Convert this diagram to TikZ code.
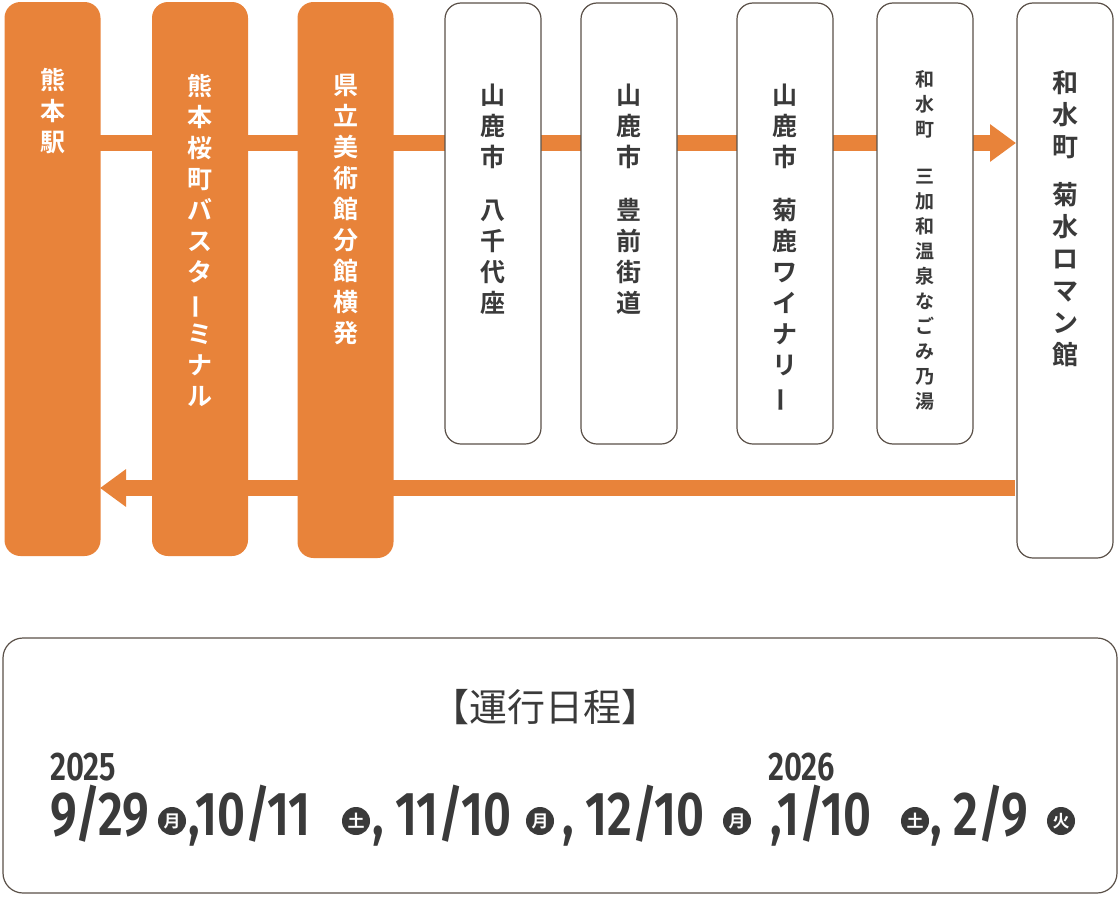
\documentclass[tikz,border=0pt]{standalone}
\usepackage{fontspec}
\usepackage{graphicx}
\setmainfont{Noto Sans CJK JP}
\newfontfamily\cjkb[BoldFont={Noto Sans CJK JP Bold}]{Noto Sans CJK JP Bold}
\newfontfamily\cjkl{Noto Sans CJK JP}
\newfontfamily\numf{Fira Sans}[UprightFont=* SemiBold]
\usetikzlibrary{arrows.meta}
\definecolor{org}{HTML}{E8833A}
\definecolor{brd}{HTML}{5A5048}
\definecolor{txt}{HTML}{3A3A3A}
\newcommand\vbar{\rotatebox[origin=c]{90}{ー}}
\newcommand\dg[1]{\scalebox{0.78}[1]{#1}}
\begin{document}
\begin{tikzpicture}[x=1pt,y=-1pt,
  obox/.style={fill=org,draw=none,rounded corners=16,minimum width=96,inner sep=0},
  wbox/.style={fill=white,draw=brd,line width=1.2,rounded corners=16,minimum width=96,inner sep=0},
  vt/.style={anchor=north,align=center,inner sep=0,font=\cjkb\fontsize{25}{31}\selectfont},
  arr/.style={org,line width=16,-{Triangle[length=26,width=36]}},
  dc/.style={circle,fill=txt,text=white,minimum size=28,inner sep=0,font=\cjkb\fontsize{17}{17}\selectfont},
  num/.style={anchor=base west,inner sep=0,text=txt,font=\numf\fontsize{62}{62}\selectfont},
  yr/.style={anchor=base west,inner sep=0,text=txt,font=\numf\fontsize{40}{40}\selectfont}]
\useasboundingbox (0,0) rectangle (1120,897);
\coordinate (ts) at (100,143); \coordinate (te) at (1016,143);
\coordinate (bs) at (1015,488); \coordinate (be) at (100,488);
\draw[arr] (ts) -- (te);
\draw[arr] (bs) -- (be);
\node[obox,minimum height=554] (b1) at (52.5,279) {};
\node[obox,minimum height=554] (b2) at (200,279) {};
\node[obox,minimum height=556] (b3) at (345.5,280) {};
\node[wbox,minimum height=441] (b4) at (493,223.5) {};
\node[wbox,minimum height=441] (b5) at (629,223.5) {};
\node[wbox,minimum height=441] (b6) at (785,223.5) {};
\node[wbox,minimum height=441] (b7) at (925,223.5) {};
\node[wbox,minimum height=555] (b8) at (1065,280.5) {};
\node[vt,white] (t1) at (52.5,68) {熊\\本\\駅};
\node[vt,white] (t2) at (200,74) {熊\\本\\桜\\町\\バ\\ス\\タ\\\vbar\\ミ\\ナ\\ル};
\node[vt,white] (t3) at (345.5,74) {県\\立\\美\\術\\館\\分\\館\\横\\発};
\node[vt,txt] (t4) at (493,84) {山\\鹿\\市\\[22pt]八\\千\\代\\座};
\node[vt,txt] (t5) at (629,84) {山\\鹿\\市\\[22pt]豊\\前\\街\\道};
\node[vt,txt] (t6) at (785,84) {山\\鹿\\市\\[22pt]菊\\鹿\\ワ\\イ\\ナ\\リ\\\vbar};
\node[vt,txt,font=\cjkb\fontsize{19}{25}\selectfont] (t7) at (925,70) {和\\水\\町\\[22pt]三\\加\\和\\温\\泉\\な\\ご\\み\\乃\\湯};
\node[vt,txt,font=\cjkb\fontsize{26}{32}\selectfont] (t8) at (1065,70) {和\\水\\町\\[16pt]菊\\水\\ロ\\マ\\ン\\館};
\node[fill=white,draw=brd,line width=1.2,rounded corners=20,minimum width=1114,minimum height=255,inner sep=0] (sch) at (560,765.5) {};
\node[text=txt,font=\cjkl\fontsize{38}{38}\selectfont] (ttl) at (545,707) {【運行日程】};
\node[yr] (y1) at (50,780) {\dg{2025}};
\node[yr] (y2) at (768,780) {\dg{2026}};
\node[num] (n1) at (50,835) {\dg{9/29}};
\node[dc] (d1) at (172,821) {月};
\node[num] (n2) at (188,835) {\dg{,10/11}};
\node[dc] (d2) at (356,821) {土};
\node[num] (n3) at (372,835) {\dg{, 11/10}};
\node[dc] (d3) at (540,821) {月};
\node[num] (n4) at (562,835) {\dg{, 12/10}};
\node[dc] (d4) at (737,821) {月};
\node[num] (n5) at (770,835) {\dg{,1/10}};
\node[dc] (d5) at (915,821) {土};
\node[num] (n6) at (930,835) {\dg{, 2/9}};
\node[dc] (d6) at (1061,821) {火};
\end{tikzpicture}
\end{document}
